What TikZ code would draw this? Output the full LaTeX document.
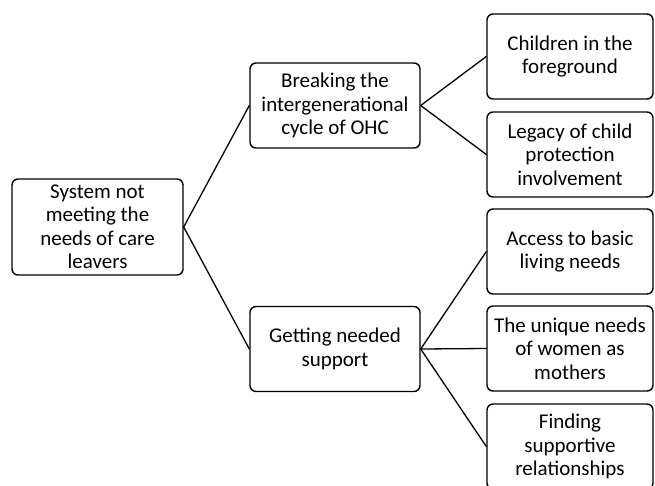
\documentclass[tikz,border=0pt]{standalone}
\usepackage{fontspec}
\setmainfont{Carlito}
\begin{document}
\begin{tikzpicture}[x=1pt,y=-1pt,line cap=round]
  % Styles
  \tikzstyle{theme}=[draw,line width=1.4pt,rounded corners=6pt,align=center,
    inner sep=2pt,font=\fontsize{21}{23.5}\selectfont]
  \tikzstyle{main theme}=[theme,minimum width=171pt,minimum height=96pt]
  \tikzstyle{mid theme}=[theme,minimum width=170pt,minimum height=85pt]
  \tikzstyle{sub theme}=[theme,minimum width=166pt,minimum height=85pt]
  \tikzstyle{link}=[line width=1.3pt]

  % The graphic
  \useasboundingbox (0,0) rectangle (655,485);

  \node[main theme] (system) at (97.5,227) {System not\\meeting the\\needs of care\\leavers};

  \node[mid theme] (breaking) at (335,105.5) {Breaking the\\intergenerational\\cycle of OHC};
  \node[mid theme] (getting) at (335,349) {Getting needed\\support};

  \node[sub theme] (children) at (570,56.5) {Children in the\\foreground};
  \node[sub theme] (legacy) at (570,154.5) {Legacy of child\\protection\\involvement};
  \node[sub theme] (access) at (570,251.5) {Access to basic\\living needs};
  \node[sub theme] (unique) at (570,348.5) {The unique needs\\of women as\\mothers};
  \node[sub theme] (finding) at (570,446.5) {Finding\\supportive\\relationships};

  \foreach \t in {breaking,getting}
    \draw[style=link] (system.east) -- (\t.west);

  \foreach \t in {children,legacy}
    \draw[style=link] (breaking.east) -- (\t.west);

  \foreach \t in {access,unique,finding}
    \draw[style=link] (getting.east) -- (\t.west);
\end{tikzpicture}
\end{document}
